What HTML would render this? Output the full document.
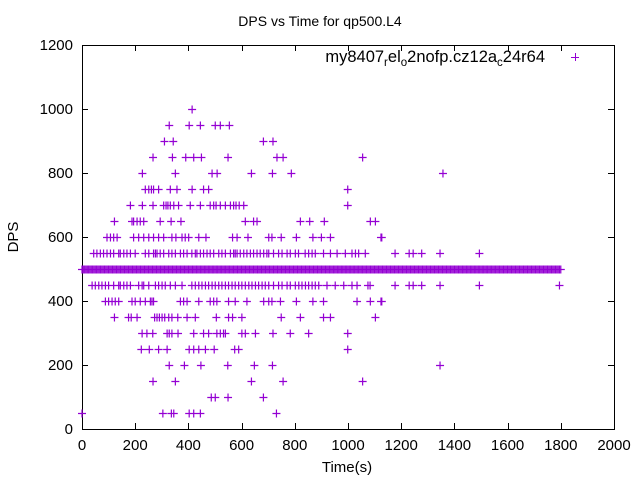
<!DOCTYPE html>
<html><head><meta charset="utf-8"><style>
body{margin:0;background:#fff}
svg{display:block;font-family:"Liberation Sans",sans-serif}
</style></head><body>
<svg id="chart" width="640" height="480" viewBox="0 0 640 480" xmlns="http://www.w3.org/2000/svg">
<rect width="640" height="480" fill="#fff"/>
<text x="320" y="26" text-anchor="middle" font-size="14">DPS vs Time for qp500.L4</text>
<text x="347" y="472" text-anchor="middle" font-size="15">Time(s)</text>
<text transform="translate(18,237) rotate(-90)" text-anchor="middle" font-size="15">DPS</text>
<g id="axes"></g>
<g id="points"></g>
<g>
<text x="545" y="62" text-anchor="end" font-size="16.5">my8407<tspan font-size="11.5" dy="4">r</tspan><tspan dy="-4">el</tspan><tspan font-size="11.5" dy="4">o</tspan><tspan dy="-4">2nofp.cz12a</tspan><tspan font-size="11.5" dy="4">c</tspan><tspan dy="-4">24r64</tspan></text>
<path d="M571,57.5h8M575.5,53v8" stroke="#9400d3" stroke-width="1" shape-rendering="crispEdges"/>
</g>
</svg>
<script>
const xTicks=[0,200,400,600,800,1000,1200,1400,1600,1800,2000];
const yTicks=[0,200,400,600,800,1000,1200];
const t500=[0,5,10,15,20,25,30,35,40,45,50,55,60,65,70,75,80,85,90,95,100,105,110,115,120,125,130,135,140,145,150,155,160,165,170,175,180,185,190,195,200,205,210,215,220,225,230,235,240,245,250,255,260,265,270,275,280,285,290,295,300,305,310,315,320,325,330,335,340,345,350,355,360,365,370,375,380,385,390,395,400,405,410,415,420,425,430,435,440,445,450,455,460,465,470,475,480,485,490,495,500,505,510,515,520,525,530,535,540,545,550,555,560,565,570,575,580,585,590,595,600,605,610,615,620,625,630,635,640,645,650,655,660,665,670,675,680,685,690,695,700,705,710,715,720,725,730,735,740,745,750,755,760,765,770,775,780,785,790,795,800,805,810,815,820,825,830,835,840,845,850,855,860,865,870,875,880,885,890,895,900,905,910,915,920,925,930,935,940,945,950,955,960,965,970,975,980,985,990,995,1000,1005,1010,1015,1020,1025,1030,1035,1040,1045,1050,1055,1060,1065,1070,1075,1080,1085,1090,1095,1100,1105,1110,1115,1120,1125,1130,1135,1140,1145,1150,1155,1160,1165,1170,1175,1180,1185,1190,1195,1200,1205,1210,1215,1220,1225,1230,1235,1240,1245,1250,1255,1260,1265,1270,1275,1280,1285,1290,1295,1300,1305,1310,1315,1320,1325,1330,1335,1340,1345,1350,1355,1360,1365,1370,1375,1380,1385,1390,1395,1400,1405,1410,1415,1420,1425,1430,1435,1440,1445,1450,1455,1460,1465,1470,1475,1480,1485,1490,1495,1500,1505,1510,1515,1520,1525,1530,1535,1540,1545,1550,1555,1560,1565,1570,1575,1580,1585,1590,1595,1600,1605,1610,1615,1620,1625,1630,1635,1640,1645,1650,1655,1660,1665,1670,1675,1680,1685,1690,1695,1700,1705,1710,1715,1720,1725,1730,1735,1740,1745,1750,1755,1760,1765,1770,1775,1780,1785,1790,1795,1800];
const t1000=[414];
const t950=[328,403,445,501,520,554];
const t900=[310,343,682,718];
const t850=[267,340,390,420,449,549,733,756,1055];
const t800=[227,351,489,508,637,716,787,1357];
const t750=[238,251,261,269,288,332,357,414,457,476,999];
const t700=[182,227,267,307,316,323,332,345,363,407,445,482,495,504,520,539,558,570,579,591,608,999];
const t650=[122,188,194,207,219,232,294,335,372,614,645,658,821,856,911,1084,1103];
const t600=[94,107,119,132,194,213,232,251,269,288,307,338,353,376,388,401,439,466,566,583,624,702,714,749,806,868,900,934,1124,1127];
const t550=[44,56,69,81,94,107,119,138,144,157,169,182,200,238,251,269,276,282,294,307,326,338,351,370,382,395,413,426,432,445,457,470,482,495,514,526,539,558,570,576,583,595,608,620,633,645,658,670,683,695,702,720,739,752,771,783,802,814,839,852,865,877,908,934,959,990,1015,1028,1040,1065,1177,1230,1245,1277,1346,1494];
const t450=[38,50,63,75,88,100,119,138,144,157,169,182,213,226,232,251,276,288,301,313,332,351,376,413,426,439,451,464,476,489,501,514,526,539,551,564,576,589,601,614,627,639,652,664,677,689,702,720,739,752,771,783,802,815,827,840,852,865,877,890,921,952,984,1015,1034,1075,1083,1177,1230,1245,1277,1346,1494,1795];
const t400=[88,100,113,125,138,188,200,219,238,257,263,269,370,382,395,439,482,495,507,551,576,620,683,702,714,746,806,868,908,1034,1084,1124,1127];
const t350=[122,175,185,207,273,282,291,301,311,326,338,360,395,426,505,551,566,601,749,821,908,934,1103];
const t300=[226,244,266,320,328,338,361,420,457,476,507,520,532,539,601,614,652,718,783,852,999];
const t250=[223,253,288,320,403,420,439,464,497,574,589,999];
const t200=[328,385,447,548,648,716,1346];
const t150=[267,351,637,756,1055];
const t100=[486,501,549,682];
const t50=[0,304,336,345,403,420,445,731];
const levels=[[1000,t1000],[950,t950],[900,t900],[850,t850],[800,t800],[750,t750],[700,t700],[650,t650],[600,t600],[550,t550],[500,t500],[450,t450],[400,t400],[350,t350],[300,t300],[250,t250],[200,t200],[150,t150],[100,t100],[50,t50]];
const X0=82,X1=614,Y0=429,Y1=45;
const xs=v=>X0+(v-0)/2000*(X1-X0);
const ys=v=>Y0-(v-0)/1200*(Y0-Y1);
const NS="http://www.w3.org/2000/svg";
const axes=document.getElementById('axes');
let d=`M${X0+0.5},${Y1+0.5}H${X1+0.5}V${Y0+0.5}H${X0+0.5}Z`;
xTicks.forEach(t=>{const x=Math.round(xs(t))+0.5;d+=`M${x},${Y0}v-6M${x},${Y1}v6`;
 const tx=document.createElementNS(NS,'text');
 
 
 tx.setAttribute('x',xs(t));tx.setAttribute('y',450);tx.setAttribute('text-anchor','middle');tx.setAttribute('font-size','15');tx.textContent=t;axes.appendChild(tx);});
yTicks.forEach(t=>{const y=Math.round(ys(t))+0.5;d+=`M${X0},${y}h6M${X1},${y}h-6`;
 const tx=document.createElementNS(NS,'text');
 
 
 tx.setAttribute('x',73);tx.setAttribute('y',ys(t)+5);tx.setAttribute('text-anchor','end');tx.setAttribute('font-size','15');tx.textContent=t;axes.appendChild(tx);});
const frame=document.createElementNS(NS,'path');


frame.setAttribute('d',d);frame.setAttribute('stroke','#000');frame.setAttribute('fill','none');frame.setAttribute('stroke-width','1');frame.setAttribute('shape-rendering','crispEdges');
axes.appendChild(frame);
let pd='';
levels.forEach(([v,ts])=>{const y=Math.round(ys(v))+0.5;ts.forEach(t=>{const x=xs(t);pd+=`M${x-4},${y}h8M${x},${y-4}v8`;});});
const pts=document.createElementNS(NS,'path');


pts.setAttribute('d',pd);pts.setAttribute('stroke','#9400d3');pts.setAttribute('stroke-width','1.2');pts.setAttribute('fill','none');
document.getElementById('points').appendChild(pts);
</script>
</body></html>
